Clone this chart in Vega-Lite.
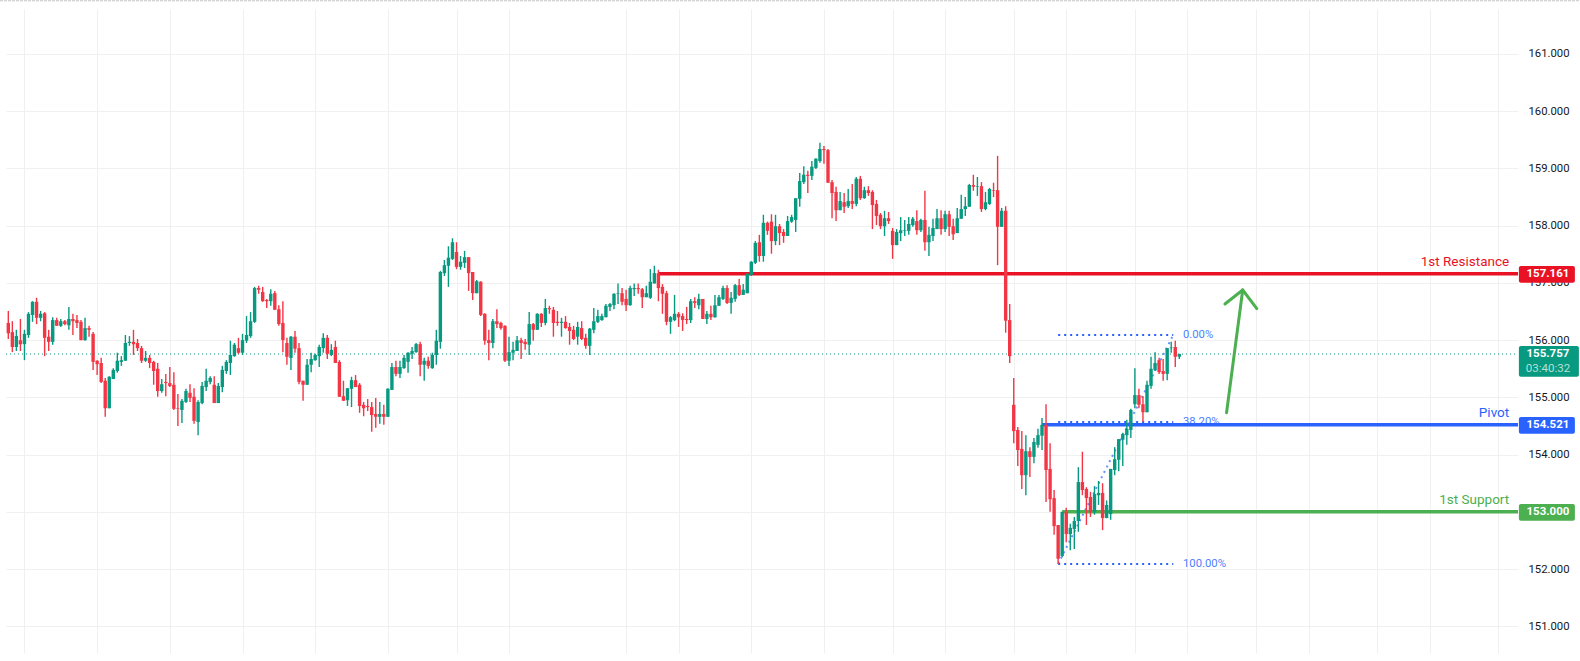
{
  "$schema": "https://vega.github.io/schema/vega-lite/v6.json",
  "autosize": "none",
  "width": 1512,
  "height": 644,
  "padding": {"left": 6, "top": 9, "right": 62, "bottom": 8},
  "background": "#ffffff",
  "config": {
    "view": {"stroke": null},
    "text": {"font": "Roboto"},
    "axis": {"labelFont": "Roboto"}
  },
  "datasets": {
    "candles": [
      {"i":0,"o":156.30,"h":156.51,"l":156.02,"c":156.12},
      {"i":1,"o":156.14,"h":156.33,"l":155.79,"c":155.88},
      {"i":2,"o":155.88,"h":156.18,"l":155.81,"c":156.07},
      {"i":3,"o":156.00,"h":156.37,"l":155.81,"c":155.93},
      {"i":4,"o":155.93,"h":156.18,"l":155.65,"c":156.11},
      {"i":5,"o":156.09,"h":156.49,"l":156.04,"c":156.46},
      {"i":6,"o":156.44,"h":156.68,"l":156.32,"c":156.67},
      {"i":7,"o":156.67,"h":156.74,"l":156.28,"c":156.39},
      {"i":8,"o":156.39,"h":156.51,"l":156.33,"c":156.46},
      {"i":9,"o":156.47,"h":156.49,"l":155.72,"c":156.04},
      {"i":10,"o":156.06,"h":156.18,"l":155.81,"c":155.97},
      {"i":11,"o":155.97,"h":156.40,"l":155.92,"c":156.35},
      {"i":12,"o":156.35,"h":156.39,"l":156.25,"c":156.25},
      {"i":13,"o":156.25,"h":156.37,"l":156.23,"c":156.33},
      {"i":14,"o":156.33,"h":156.35,"l":156.26,"c":156.28},
      {"i":15,"o":156.26,"h":156.58,"l":156.18,"c":156.37},
      {"i":16,"o":156.37,"h":156.46,"l":156.09,"c":156.33},
      {"i":17,"o":156.35,"h":156.44,"l":156.21,"c":156.30},
      {"i":18,"o":156.32,"h":156.35,"l":156.00,"c":156.00},
      {"i":19,"o":156.00,"h":156.39,"l":155.99,"c":156.21},
      {"i":20,"o":156.21,"h":156.25,"l":156.06,"c":156.18},
      {"i":21,"o":156.11,"h":156.14,"l":155.48,"c":155.62},
      {"i":22,"o":155.64,"h":155.65,"l":155.39,"c":155.58},
      {"i":23,"o":155.60,"h":155.69,"l":155.25,"c":155.27},
      {"i":24,"o":155.29,"h":155.34,"l":154.66,"c":154.81},
      {"i":25,"o":154.81,"h":155.37,"l":154.81,"c":155.36},
      {"i":26,"o":155.32,"h":155.51,"l":155.32,"c":155.48},
      {"i":27,"o":155.46,"h":155.78,"l":155.43,"c":155.64},
      {"i":28,"o":155.62,"h":155.72,"l":155.55,"c":155.65},
      {"i":29,"o":155.64,"h":156.09,"l":155.64,"c":155.95},
      {"i":30,"o":155.95,"h":156.07,"l":155.90,"c":155.97},
      {"i":31,"o":155.97,"h":156.18,"l":155.74,"c":155.93},
      {"i":32,"o":155.95,"h":156.02,"l":155.81,"c":155.86},
      {"i":33,"o":155.86,"h":155.90,"l":155.60,"c":155.64},
      {"i":34,"o":155.64,"h":155.81,"l":155.62,"c":155.69},
      {"i":35,"o":155.69,"h":155.74,"l":155.51,"c":155.60},
      {"i":36,"o":155.62,"h":155.64,"l":155.22,"c":155.46},
      {"i":37,"o":155.50,"h":155.60,"l":155.01,"c":155.11},
      {"i":38,"o":155.11,"h":155.32,"l":155.08,"c":155.23},
      {"i":39,"o":155.27,"h":155.41,"l":155.02,"c":155.25},
      {"i":40,"o":155.25,"h":155.53,"l":155.18,"c":155.20},
      {"i":41,"o":155.22,"h":155.44,"l":154.78,"c":154.80},
      {"i":42,"o":154.81,"h":155.06,"l":154.50,"c":154.80},
      {"i":43,"o":154.78,"h":154.97,"l":154.55,"c":154.94},
      {"i":44,"o":154.92,"h":155.15,"l":154.90,"c":155.11},
      {"i":45,"o":155.08,"h":155.23,"l":154.92,"c":154.99},
      {"i":46,"o":155.01,"h":155.16,"l":154.54,"c":154.59},
      {"i":47,"o":154.57,"h":154.95,"l":154.34,"c":154.92},
      {"i":48,"o":154.90,"h":155.27,"l":154.88,"c":155.20},
      {"i":49,"o":155.18,"h":155.50,"l":155.11,"c":155.29},
      {"i":50,"o":155.27,"h":155.37,"l":155.23,"c":155.34},
      {"i":51,"o":155.22,"h":155.37,"l":154.90,"c":154.90},
      {"i":52,"o":154.90,"h":155.25,"l":154.90,"c":155.20},
      {"i":53,"o":155.18,"h":155.55,"l":155.09,"c":155.48},
      {"i":54,"o":155.46,"h":155.65,"l":155.41,"c":155.62},
      {"i":55,"o":155.60,"h":155.99,"l":155.39,"c":155.74},
      {"i":56,"o":155.72,"h":155.95,"l":155.71,"c":155.92},
      {"i":57,"o":155.86,"h":156.04,"l":155.76,"c":155.78},
      {"i":58,"o":155.78,"h":156.11,"l":155.74,"c":156.00},
      {"i":59,"o":155.99,"h":156.42,"l":155.95,"c":156.09},
      {"i":60,"o":156.07,"h":156.49,"l":156.04,"c":156.33},
      {"i":61,"o":156.32,"h":156.93,"l":156.30,"c":156.91},
      {"i":62,"o":156.91,"h":156.95,"l":156.81,"c":156.88},
      {"i":63,"o":156.84,"h":156.93,"l":156.67,"c":156.68},
      {"i":64,"o":156.70,"h":156.72,"l":156.56,"c":156.68},
      {"i":65,"o":156.68,"h":156.89,"l":156.60,"c":156.81},
      {"i":66,"o":156.82,"h":156.86,"l":156.53,"c":156.53},
      {"i":67,"o":156.54,"h":156.61,"l":156.25,"c":156.28},
      {"i":68,"o":156.30,"h":156.68,"l":155.79,"c":156.00},
      {"i":69,"o":155.95,"h":156.04,"l":155.57,"c":155.71},
      {"i":70,"o":155.69,"h":156.07,"l":155.48,"c":156.06},
      {"i":71,"o":156.06,"h":156.16,"l":155.78,"c":155.85},
      {"i":72,"o":155.86,"h":155.95,"l":155.23,"c":155.27},
      {"i":73,"o":155.29,"h":155.29,"l":154.94,"c":155.22},
      {"i":74,"o":155.22,"h":155.67,"l":155.22,"c":155.57},
      {"i":75,"o":155.57,"h":155.78,"l":155.44,"c":155.67},
      {"i":76,"o":155.65,"h":155.76,"l":155.64,"c":155.74},
      {"i":77,"o":155.72,"h":155.92,"l":155.53,"c":155.88},
      {"i":78,"o":155.86,"h":156.12,"l":155.78,"c":156.04},
      {"i":79,"o":156.04,"h":156.09,"l":155.67,"c":155.76},
      {"i":80,"o":155.74,"h":155.93,"l":155.72,"c":155.83},
      {"i":81,"o":155.88,"h":155.99,"l":155.60,"c":155.60},
      {"i":82,"o":155.62,"h":155.65,"l":155.01,"c":155.01},
      {"i":83,"o":155.02,"h":155.29,"l":154.94,"c":154.94},
      {"i":84,"o":154.95,"h":155.16,"l":154.85,"c":155.16},
      {"i":85,"o":155.15,"h":155.36,"l":154.83,"c":155.30},
      {"i":86,"o":155.30,"h":155.39,"l":155.18,"c":155.18},
      {"i":87,"o":155.22,"h":155.25,"l":154.73,"c":154.85},
      {"i":88,"o":154.87,"h":154.92,"l":154.67,"c":154.81},
      {"i":89,"o":154.85,"h":154.97,"l":154.76,"c":154.83},
      {"i":90,"o":154.83,"h":154.92,"l":154.40,"c":154.69},
      {"i":91,"o":154.71,"h":154.99,"l":154.47,"c":154.66},
      {"i":92,"o":154.66,"h":154.92,"l":154.54,"c":154.71},
      {"i":93,"o":154.71,"h":154.87,"l":154.52,"c":154.66},
      {"i":94,"o":154.66,"h":155.16,"l":154.66,"c":155.15},
      {"i":95,"o":155.13,"h":155.60,"l":155.13,"c":155.53},
      {"i":96,"o":155.53,"h":155.64,"l":155.37,"c":155.41},
      {"i":97,"o":155.41,"h":155.64,"l":155.34,"c":155.53},
      {"i":98,"o":155.51,"h":155.74,"l":155.50,"c":155.69},
      {"i":99,"o":155.62,"h":155.79,"l":155.43,"c":155.78},
      {"i":100,"o":155.76,"h":155.88,"l":155.67,"c":155.81},
      {"i":101,"o":155.79,"h":155.95,"l":155.78,"c":155.93},
      {"i":102,"o":155.93,"h":155.97,"l":155.37,"c":155.57},
      {"i":103,"o":155.57,"h":155.69,"l":155.29,"c":155.64},
      {"i":104,"o":155.64,"h":155.71,"l":155.50,"c":155.55},
      {"i":105,"o":155.51,"h":155.78,"l":155.50,"c":155.74},
      {"i":106,"o":155.74,"h":156.18,"l":155.57,"c":155.99},
      {"i":107,"o":155.97,"h":157.21,"l":155.85,"c":157.19},
      {"i":108,"o":157.17,"h":157.40,"l":157.12,"c":157.31},
      {"i":109,"o":157.30,"h":157.64,"l":156.93,"c":157.44},
      {"i":110,"o":157.42,"h":157.78,"l":157.40,"c":157.71},
      {"i":111,"o":157.54,"h":157.71,"l":157.24,"c":157.28},
      {"i":112,"o":157.28,"h":157.47,"l":157.23,"c":157.37},
      {"i":113,"o":157.35,"h":157.56,"l":157.26,"c":157.45},
      {"i":114,"o":157.45,"h":157.45,"l":156.86,"c":157.17},
      {"i":115,"o":157.19,"h":157.19,"l":156.70,"c":156.82},
      {"i":116,"o":156.82,"h":157.05,"l":156.82,"c":157.03},
      {"i":117,"o":157.02,"h":157.03,"l":156.42,"c":156.44},
      {"i":118,"o":156.46,"h":156.47,"l":155.92,"c":155.99},
      {"i":119,"o":156.00,"h":156.18,"l":155.65,"c":155.95},
      {"i":120,"o":155.95,"h":156.37,"l":155.86,"c":156.33},
      {"i":121,"o":156.33,"h":156.54,"l":156.21,"c":156.28},
      {"i":122,"o":156.30,"h":156.32,"l":156.18,"c":156.21},
      {"i":123,"o":156.25,"h":156.26,"l":155.62,"c":155.64},
      {"i":124,"o":155.64,"h":156.06,"l":155.55,"c":155.79},
      {"i":125,"o":155.78,"h":155.97,"l":155.65,"c":155.83},
      {"i":126,"o":155.81,"h":156.07,"l":155.81,"c":156.00},
      {"i":127,"o":156.00,"h":156.04,"l":155.67,"c":155.95},
      {"i":128,"o":155.97,"h":156.02,"l":155.83,"c":155.93},
      {"i":129,"o":155.92,"h":156.49,"l":155.74,"c":156.28},
      {"i":130,"o":156.28,"h":156.30,"l":155.99,"c":156.18},
      {"i":131,"o":156.18,"h":156.47,"l":156.18,"c":156.46},
      {"i":132,"o":156.46,"h":156.47,"l":156.23,"c":156.30},
      {"i":133,"o":156.30,"h":156.72,"l":156.26,"c":156.56},
      {"i":134,"o":156.56,"h":156.60,"l":156.46,"c":156.54},
      {"i":135,"o":156.53,"h":156.58,"l":156.06,"c":156.30},
      {"i":136,"o":156.32,"h":156.51,"l":156.25,"c":156.30},
      {"i":137,"o":156.30,"h":156.39,"l":156.06,"c":156.32},
      {"i":138,"o":156.32,"h":156.42,"l":156.20,"c":156.21},
      {"i":139,"o":156.23,"h":156.30,"l":155.92,"c":156.16},
      {"i":140,"o":156.18,"h":156.25,"l":156.00,"c":156.02},
      {"i":141,"o":156.06,"h":156.32,"l":155.92,"c":156.23},
      {"i":142,"o":156.21,"h":156.33,"l":156.00,"c":156.02},
      {"i":143,"o":156.04,"h":156.11,"l":155.85,"c":155.90},
      {"i":144,"o":155.90,"h":156.21,"l":155.74,"c":156.20},
      {"i":145,"o":156.18,"h":156.56,"l":156.12,"c":156.33},
      {"i":146,"o":156.32,"h":156.53,"l":156.30,"c":156.42},
      {"i":147,"o":156.35,"h":156.46,"l":156.34,"c":156.42},
      {"i":148,"o":156.40,"h":156.63,"l":156.40,"c":156.60},
      {"i":149,"o":156.58,"h":156.65,"l":156.51,"c":156.63},
      {"i":150,"o":156.61,"h":156.82,"l":156.54,"c":156.81},
      {"i":151,"o":156.81,"h":156.99,"l":156.63,"c":156.82},
      {"i":152,"o":156.82,"h":156.91,"l":156.61,"c":156.67},
      {"i":153,"o":156.72,"h":156.88,"l":156.51,"c":156.61},
      {"i":154,"o":156.61,"h":156.95,"l":156.60,"c":156.91},
      {"i":155,"o":156.89,"h":156.99,"l":156.77,"c":156.91},
      {"i":156,"o":156.91,"h":156.99,"l":156.81,"c":156.89},
      {"i":157,"o":156.89,"h":156.91,"l":156.56,"c":156.75},
      {"i":158,"o":156.75,"h":156.95,"l":156.75,"c":156.82},
      {"i":159,"o":156.74,"h":157.24,"l":156.72,"c":157.02},
      {"i":160,"o":156.99,"h":157.30,"l":156.99,"c":157.17},
      {"i":161,"o":157.17,"h":157.23,"l":156.68,"c":156.91},
      {"i":162,"o":156.93,"h":156.98,"l":156.46,"c":156.81},
      {"i":163,"o":156.82,"h":156.86,"l":156.26,"c":156.32},
      {"i":164,"o":156.32,"h":156.42,"l":156.11,"c":156.40},
      {"i":165,"o":156.35,"h":156.79,"l":156.33,"c":156.46},
      {"i":166,"o":156.46,"h":156.49,"l":156.23,"c":156.40},
      {"i":167,"o":156.42,"h":156.47,"l":156.16,"c":156.35},
      {"i":168,"o":156.37,"h":156.58,"l":156.28,"c":156.35},
      {"i":169,"o":156.35,"h":156.72,"l":156.30,"c":156.68},
      {"i":170,"o":156.68,"h":156.75,"l":156.56,"c":156.65},
      {"i":171,"o":156.61,"h":156.81,"l":156.54,"c":156.72},
      {"i":172,"o":156.72,"h":156.72,"l":156.37,"c":156.37},
      {"i":173,"o":156.37,"h":156.51,"l":156.28,"c":156.46},
      {"i":174,"o":156.46,"h":156.60,"l":156.35,"c":156.40},
      {"i":175,"o":156.40,"h":156.79,"l":156.39,"c":156.61},
      {"i":176,"o":156.60,"h":156.79,"l":156.60,"c":156.75},
      {"i":177,"o":156.72,"h":156.95,"l":156.70,"c":156.91},
      {"i":178,"o":156.91,"h":156.96,"l":156.63,"c":156.65},
      {"i":179,"o":156.65,"h":156.84,"l":156.46,"c":156.74},
      {"i":180,"o":156.72,"h":156.98,"l":156.67,"c":156.96},
      {"i":181,"o":156.96,"h":157.07,"l":156.77,"c":156.79},
      {"i":182,"o":156.79,"h":156.98,"l":156.79,"c":156.88},
      {"i":183,"o":156.82,"h":157.17,"l":156.82,"c":157.16},
      {"i":184,"o":157.14,"h":157.38,"l":157.12,"c":157.37},
      {"i":185,"o":157.35,"h":157.73,"l":157.33,"c":157.70},
      {"i":186,"o":157.71,"h":157.84,"l":157.37,"c":157.47},
      {"i":187,"o":157.47,"h":158.19,"l":157.37,"c":158.05},
      {"i":188,"o":158.05,"h":158.07,"l":157.84,"c":157.91},
      {"i":189,"o":158.07,"h":158.20,"l":157.51,"c":157.73},
      {"i":190,"o":157.73,"h":158.19,"l":157.66,"c":157.99},
      {"i":191,"o":157.99,"h":158.03,"l":157.66,"c":157.87},
      {"i":192,"o":157.89,"h":157.94,"l":157.70,"c":157.82},
      {"i":193,"o":157.82,"h":158.17,"l":157.82,"c":158.08},
      {"i":194,"o":158.07,"h":158.19,"l":158.05,"c":158.15},
      {"i":195,"o":158.10,"h":158.48,"l":157.89,"c":158.48},
      {"i":196,"o":158.47,"h":158.92,"l":158.33,"c":158.78},
      {"i":197,"o":158.76,"h":159.04,"l":158.73,"c":158.89},
      {"i":198,"o":158.89,"h":158.96,"l":158.57,"c":158.87},
      {"i":199,"o":158.87,"h":159.13,"l":158.80,"c":159.03},
      {"i":200,"o":159.01,"h":159.18,"l":158.99,"c":159.17},
      {"i":201,"o":159.13,"h":159.45,"l":159.10,"c":159.34},
      {"i":202,"o":159.34,"h":159.39,"l":159.08,"c":159.32},
      {"i":203,"o":159.32,"h":159.34,"l":158.75,"c":158.75},
      {"i":204,"o":158.76,"h":158.80,"l":158.13,"c":158.57},
      {"i":205,"o":158.59,"h":158.68,"l":158.08,"c":158.27},
      {"i":206,"o":158.27,"h":158.59,"l":158.27,"c":158.43},
      {"i":207,"o":158.41,"h":158.57,"l":158.22,"c":158.33},
      {"i":208,"o":158.34,"h":158.64,"l":158.31,"c":158.43},
      {"i":209,"o":158.43,"h":158.73,"l":158.29,"c":158.38},
      {"i":210,"o":158.38,"h":158.85,"l":158.34,"c":158.82},
      {"i":211,"o":158.82,"h":158.87,"l":158.45,"c":158.48},
      {"i":212,"o":158.48,"h":158.68,"l":158.47,"c":158.62},
      {"i":213,"o":158.62,"h":158.69,"l":158.52,"c":158.57},
      {"i":214,"o":158.59,"h":158.62,"l":157.94,"c":158.36},
      {"i":215,"o":158.38,"h":158.45,"l":158.01,"c":158.17},
      {"i":216,"o":158.19,"h":158.22,"l":157.94,"c":157.99},
      {"i":217,"o":157.99,"h":158.26,"l":157.82,"c":158.13},
      {"i":218,"o":158.13,"h":158.24,"l":158.03,"c":158.08},
      {"i":219,"o":157.91,"h":157.96,"l":157.42,"c":157.66},
      {"i":220,"o":157.66,"h":157.94,"l":157.66,"c":157.89},
      {"i":221,"o":157.87,"h":158.15,"l":157.73,"c":157.92},
      {"i":222,"o":157.91,"h":158.10,"l":157.82,"c":157.92},
      {"i":223,"o":157.91,"h":158.15,"l":157.84,"c":158.03},
      {"i":224,"o":158.01,"h":158.15,"l":157.98,"c":158.12},
      {"i":225,"o":158.08,"h":158.27,"l":157.84,"c":157.92},
      {"i":226,"o":157.92,"h":158.12,"l":157.89,"c":158.10},
      {"i":227,"o":158.10,"h":158.61,"l":157.56,"c":157.71},
      {"i":228,"o":157.71,"h":157.98,"l":157.47,"c":157.84},
      {"i":229,"o":157.82,"h":158.12,"l":157.73,"c":157.96},
      {"i":230,"o":157.94,"h":158.29,"l":157.94,"c":158.13},
      {"i":231,"o":158.13,"h":158.27,"l":157.84,"c":157.94},
      {"i":232,"o":157.94,"h":158.26,"l":157.89,"c":158.20},
      {"i":233,"o":158.20,"h":158.26,"l":157.82,"c":157.98},
      {"i":234,"o":157.99,"h":158.12,"l":157.75,"c":157.85},
      {"i":235,"o":157.87,"h":158.31,"l":157.87,"c":158.13},
      {"i":236,"o":158.12,"h":158.54,"l":158.12,"c":158.29},
      {"i":237,"o":158.29,"h":158.50,"l":158.17,"c":158.34},
      {"i":238,"o":158.33,"h":158.73,"l":158.33,"c":158.71},
      {"i":239,"o":158.71,"h":158.89,"l":158.61,"c":158.68},
      {"i":240,"o":158.68,"h":158.85,"l":158.52,"c":158.69},
      {"i":241,"o":158.69,"h":158.76,"l":158.24,"c":158.29},
      {"i":242,"o":158.29,"h":158.59,"l":158.27,"c":158.41},
      {"i":243,"o":158.38,"h":158.66,"l":158.36,"c":158.64},
      {"i":244,"o":158.62,"h":158.75,"l":158.50,"c":158.61},
      {"i":245,"o":158.62,"h":159.22,"l":157.31,"c":157.98},
      {"i":246,"o":157.98,"h":158.31,"l":157.98,"c":158.26},
      {"i":247,"o":158.26,"h":158.34,"l":156.13,"c":156.34},
      {"i":248,"o":156.35,"h":156.63,"l":155.60,"c":155.72},
      {"i":249,"o":154.87,"h":155.34,"l":154.20,"c":154.41},
      {"i":250,"o":154.43,"h":154.48,"l":153.80,"c":154.08},
      {"i":251,"o":154.10,"h":154.41,"l":153.40,"c":153.64},
      {"i":252,"o":153.64,"h":154.34,"l":153.29,"c":154.06},
      {"i":253,"o":154.06,"h":154.13,"l":153.61,"c":153.96},
      {"i":254,"o":153.96,"h":154.29,"l":153.85,"c":154.22},
      {"i":255,"o":154.17,"h":154.45,"l":154.12,"c":154.34},
      {"i":256,"o":154.33,"h":154.64,"l":154.08,"c":154.52},
      {"i":257,"o":154.52,"h":154.88,"l":153.17,"c":153.73},
      {"i":258,"o":153.75,"h":154.20,"l":153.00,"c":153.22},
      {"i":259,"o":153.24,"h":153.38,"l":152.60,"c":152.75},
      {"i":260,"o":152.77,"h":152.77,"l":152.09,"c":152.18},
      {"i":261,"o":152.23,"h":153.00,"l":152.21,"c":153.00},
      {"i":262,"o":153.00,"h":153.07,"l":152.47,"c":152.61},
      {"i":263,"o":152.61,"h":152.79,"l":152.33,"c":152.72},
      {"i":264,"o":152.70,"h":152.91,"l":152.35,"c":152.84},
      {"i":265,"o":152.84,"h":153.78,"l":152.65,"c":153.52},
      {"i":266,"o":153.52,"h":154.05,"l":153.29,"c":153.38},
      {"i":267,"o":153.40,"h":153.43,"l":152.77,"c":153.24},
      {"i":268,"o":153.26,"h":153.35,"l":152.91,"c":153.00},
      {"i":269,"o":153.00,"h":153.45,"l":152.95,"c":153.31},
      {"i":270,"o":153.29,"h":153.54,"l":153.12,"c":153.33},
      {"i":271,"o":153.33,"h":153.50,"l":152.68,"c":152.89},
      {"i":272,"o":152.89,"h":153.20,"l":152.89,"c":153.12},
      {"i":273,"o":152.96,"h":153.75,"l":152.86,"c":153.75},
      {"i":274,"o":153.73,"h":154.13,"l":153.64,"c":153.92},
      {"i":275,"o":153.91,"h":154.27,"l":153.71,"c":154.27},
      {"i":276,"o":154.26,"h":154.38,"l":153.80,"c":154.36},
      {"i":277,"o":154.34,"h":154.61,"l":154.17,"c":154.45},
      {"i":278,"o":154.43,"h":154.80,"l":154.29,"c":154.78},
      {"i":279,"o":154.88,"h":155.51,"l":154.81,"c":155.04},
      {"i":280,"o":155.04,"h":155.15,"l":154.81,"c":154.87},
      {"i":281,"o":154.88,"h":155.02,"l":154.57,"c":154.74},
      {"i":282,"o":154.74,"h":155.29,"l":154.74,"c":155.22},
      {"i":283,"o":155.20,"h":155.71,"l":155.15,"c":155.50},
      {"i":284,"o":155.48,"h":155.79,"l":155.46,"c":155.60},
      {"i":285,"o":155.65,"h":155.69,"l":155.41,"c":155.44},
      {"i":286,"o":155.46,"h":155.67,"l":155.29,"c":155.41},
      {"i":287,"o":155.41,"h":155.86,"l":155.30,"c":155.86},
      {"i":288,"o":155.86,"h":155.97,"l":155.78,"c":155.87},
      {"i":289,"o":155.88,"h":155.99,"l":155.53,"c":155.71},
      {"i":290,"o":155.71,"h":155.76,"l":155.67,"c":155.757}
    ],
    "levels": [
      {"level":"1st Resistance","i":161,"i2":373.88,"p":157.161},
      {"level":"Pivot","i":256,"i2":373.88,"p":154.521},
      {"level":"1st Support","i":261,"i2":373.88,"p":153.0}
    ],
    "levelNames": [
      {"level":"1st Resistance","i":371.7,"p":157.366},
      {"level":"Pivot","i":371.7,"p":154.72},
      {"level":"1st Support","i":371.7,"p":153.2}
    ],
    "tags": [
      {"level":"1st Resistance","i":374.1,"i2":387.97,"p":157.296,"p2":157.004},
      {"level":"Pivot","i":374.1,"i2":387.97,"p":154.657,"p2":154.365},
      {"level":"1st Support","i":374.1,"i2":387.97,"p":153.137,"p2":152.845},
      {"level":"Last","i":374.1,"i2":388.96,"p":155.898,"p2":155.361}
    ],
    "tagText": [
      {"i":381.3,"p":157.15,"label":"157.161"},
      {"i":381.3,"p":154.51,"label":"154.521"},
      {"i":381.3,"p":152.99,"label":"153.000"},
      {"i":381.3,"p":155.753,"label":"155.757"}
    ],
    "fibLevels": [
      {"i":260,"i2":288.5,"p":156.09},
      {"i":260,"i2":288.5,"p":154.57},
      {"i":260,"i2":288.5,"p":152.09}
    ],
    "fibNames": [
      {"i":290.9,"p":156.09,"label":"0.00%"},
      {"i":290.9,"p":154.57,"label":"38.20%"},
      {"i":290.9,"p":152.09,"label":"100.00%"}
    ],
    "fibTrend": [
      {"i":260,"i2":288.5,"p":152.09,"p2":156.09}
    ],
    "lastPrice": [
      {"i":-0.57,"i2":373.3,"p":155.757}
    ],
    "countdown": [
      {"i":381.3,"p":155.501,"label":"03:40:32"}
    ],
    "arrow": [
      {"i":301.7,"p":154.732,"i2":305.7,"p2":156.876},
      {"i":301.3,"p":156.632,"i2":305.7,"p2":156.876},
      {"i":309.2,"p":156.55,"i2":305.7,"p2":156.876}
    ],
    "topEdge": [
      {"i":-2.06,"i2":389.2,"p":161.93}
    ]
  },
  "encoding": {
    "x": {
      "field": "i",
      "type": "quantitative",
      "title": null,
      "scale": {"domain": [-0.57, 373.88], "nice": false, "zero": false, "padding": 0},
      "axis": {
        "values": [4,22,40,58,76,94,111,124,153,166,184,202,219,232,249,262,279,292,309,322,339,352,369],
        "labels": false,
        "ticks": false,
        "domain": false,
        "grid": true,
        "gridColor": "#f0f0f0"
      }
    },
    "y": {
      "field": "p",
      "type": "quantitative",
      "title": null,
      "scale": {"domain": [150.533, 161.786], "nice": false, "zero": false},
      "axis": {
        "orient": "right",
        "values": [151,152,153,154,155,156,157,158,159,160,161],
        "format": ".3f",
        "ticks": false,
        "domain": false,
        "grid": true,
        "gridColor": "#f0f0f0",
        "labelColor": "#131722",
        "labelFontSize": 11.3,
        "labelPadding": 10
      }
    }
  },
  "layer": [
    {
      "data": {"name": "topEdge"},
      "mark": {"type": "rule", "color": "#c4c4c4", "strokeWidth": 1, "strokeDash": [3, 1]},
      "encoding": {"x2": {"field": "i2"}}
    },
    {
      "data": {"name": "lastPrice"},
      "mark": {"type": "rule", "color": "#089981", "strokeWidth": 1, "strokeDash": [1, 3]},
      "encoding": {"x2": {"field": "i2"}}
    },
    {
      "data": {"name": "fibNames"},
      "mark": {"type": "text", "color": "#4d7fff", "align": "left", "baseline": "middle", "fontSize": 11.3},
      "encoding": {"text": {"field": "label"}}
    },
    {
      "data": {"name": "fibLevels"},
      "mark": {"type": "rule", "color": "#2962ff", "strokeWidth": 2, "strokeDash": [2, 4]},
      "encoding": {"x2": {"field": "i2"}}
    },
    {
      "data": {"name": "fibTrend"},
      "mark": {"type": "rule", "color": "#2962ff", "opacity": 0.7, "strokeWidth": 2, "strokeDash": [2, 4]},
      "encoding": {"x2": {"field": "i2"}, "y2": {"field": "p2"}}
    },
    {
      "data": {"name": "levels"},
      "mark": {"type": "rule", "strokeWidth": 3.4},
      "encoding": {
        "x2": {"field": "i2"},
        "color": {"field": "level", "type": "nominal", "legend": null, "scale": {"domain": ["1st Resistance", "Pivot", "1st Support", "Last"], "range": ["#e91224", "#2962ff", "#4caf50", "#089981"]}}
      }
    },
    {
      "data": {"name": "levelNames"},
      "mark": {"type": "text", "align": "right", "baseline": "middle", "fontSize": 13.5},
      "encoding": {
        "text": {"field": "level"},
        "color": {"field": "level", "type": "nominal", "legend": null, "scale": {"domain": ["1st Resistance", "Pivot", "1st Support", "Last"], "range": ["#e91224", "#2962ff", "#4caf50", "#089981"]}}
      }
    },
    {
      "data": {"name": "arrow"},
      "mark": {"type": "rule", "color": "#4caf50", "strokeWidth": 3, "strokeCap": "round"},
      "encoding": {"x2": {"field": "i2"}, "y2": {"field": "p2"}}
    },
    {
      "data": {"name": "candles"},
      "mark": {"type": "rule", "strokeWidth": 1.4},
      "encoding": {
        "y": {
          "field": "l",
          "type": "quantitative",
          "title": null,
          "scale": {"domain": [150.533, 161.786], "nice": false, "zero": false},
          "axis": {
            "orient": "right",
            "values": [151,152,153,154,155,156,157,158,159,160,161],
            "format": ".3f",
            "ticks": false,
            "domain": false,
            "grid": true,
            "gridColor": "#f0f0f0",
            "labelColor": "#131722",
            "labelFontSize": 11.3,
            "labelPadding": 10
          }
        },
        "y2": {"field": "h"},
        "color": {"condition": {"test": "datum.c >= datum.o", "value": "#089981"}, "value": "#f23645"}
      }
    },
    {
      "data": {"name": "candles"},
      "mark": {"type": "bar", "size": 3.4, "orient": "vertical"},
      "encoding": {
        "y": {
          "field": "o",
          "type": "quantitative",
          "title": null,
          "stack": null,
          "scale": {"domain": [150.533, 161.786], "nice": false, "zero": false},
          "axis": {
            "orient": "right",
            "values": [151,152,153,154,155,156,157,158,159,160,161],
            "format": ".3f",
            "ticks": false,
            "domain": false,
            "grid": true,
            "gridColor": "#f0f0f0",
            "labelColor": "#131722",
            "labelFontSize": 11.3,
            "labelPadding": 10
          }
        },
        "y2": {"field": "c"},
        "color": {"condition": {"test": "datum.c >= datum.o", "value": "#089981"}, "value": "#f23645"}
      }
    },
    {
      "data": {"name": "tags"},
      "mark": {"type": "rect", "cornerRadius": 2},
      "encoding": {
        "x2": {"field": "i2"},
        "y2": {"field": "p2"},
        "color": {"field": "level", "type": "nominal", "legend": null, "scale": {"domain": ["1st Resistance", "Pivot", "1st Support", "Last"], "range": ["#e91224", "#2962ff", "#4caf50", "#089981"]}}
      }
    },
    {
      "data": {"name": "tagText"},
      "mark": {"type": "text", "color": "#ffffff", "fontSize": 11.5, "fontWeight": "bold", "baseline": "middle", "align": "center"},
      "encoding": {"text": {"field": "label"}}
    },
    {
      "data": {"name": "countdown"},
      "mark": {"type": "text", "color": "#b5e0d6", "fontSize": 11.5, "baseline": "middle", "align": "center"},
      "encoding": {"text": {"field": "label"}}
    }
  ]
}
